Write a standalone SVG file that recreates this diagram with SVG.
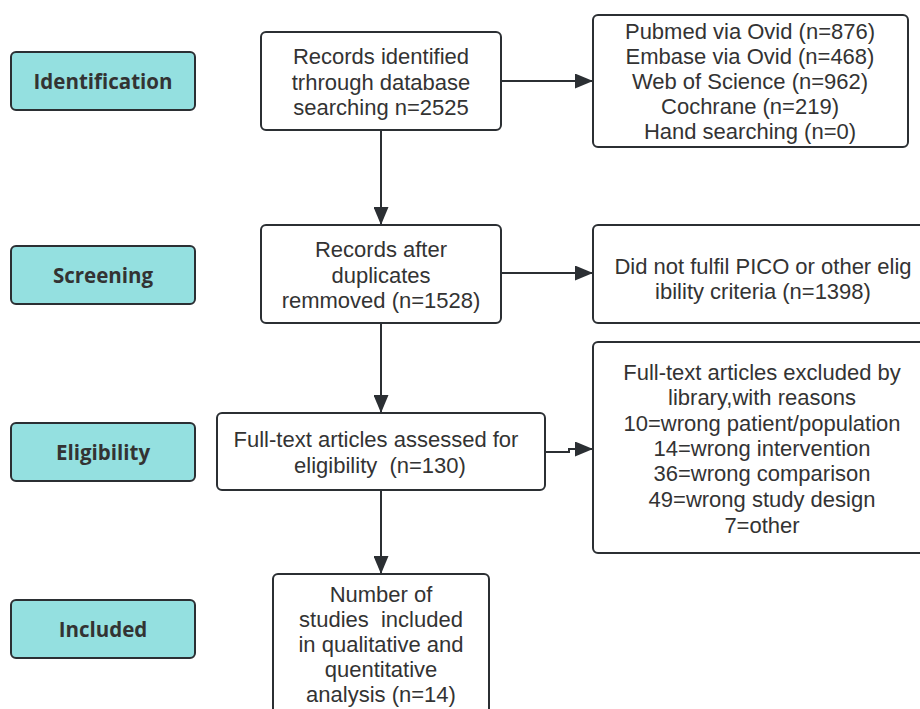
<svg xmlns="http://www.w3.org/2000/svg" width="920" height="709" viewBox="0 0 920 709">
<defs>
<style>
.lbl rect{fill:#94e0e0;stroke:#2b2f33;stroke-width:2}
.lbl text{font-family:"Open Sans","Noto Sans",sans-serif;font-weight:bold;font-size:20.5px;fill:#333;text-anchor:middle}
.box rect{fill:#fff;stroke:#2b2f33;stroke-width:2}
.box text{font-family:"Liberation Sans",Arial,sans-serif;font-size:22px;fill:#333;text-anchor:middle;white-space:pre}
.conn path{fill:none;stroke:#2b2f33;stroke-width:2}
</style>
<marker id="ah" markerWidth="18" markerHeight="15" viewBox="0 0 18 15" refX="18" refY="7.5" orient="auto" markerUnits="userSpaceOnUse">
<path d="M0,0 L18,7.5 L0,15 Z" fill="#2b2f33"/>
</marker>
</defs>
<rect width="920" height="709" fill="#fff"/>
<g id="lbl-identification" class="lbl"><rect x="11" y="52" width="184" height="58" rx="5"/><text x="103" y="89">Identification</text></g>
<g id="lbl-screening" class="lbl"><rect x="11" y="246" width="184" height="58" rx="5"/><text x="103" y="283">Screening</text></g>
<g id="lbl-eligibility" class="lbl"><rect x="11" y="423" width="184" height="58" rx="5"/><text x="103" y="460">Eligibility</text></g>
<g id="lbl-included" class="lbl"><rect x="11" y="600" width="184" height="58" rx="5"/><text x="103" y="637">Included</text></g>
<g class="conn">
<path d="M501,81 L593,81" marker-end="url(#ah)"/>
<path d="M381,130 L381,225" marker-end="url(#ah)"/>
<path d="M501,273 L593,273" marker-end="url(#ah)"/>
<path d="M381,323 L381,413" marker-end="url(#ah)"/>
<path d="M545,452 L569,452 L569,449 L593,449" marker-end="url(#ah)"/>
<path d="M381,490 L381,574" marker-end="url(#ah)"/>
</g>
<g id="n-records" class="box"><rect x="261" y="32" width="240" height="98" rx="5"/>
<text x="381" y="64">Records identified</text><text x="381" y="90">trhrough database</text><text x="381" y="115">searching n=2525</text></g>
<g id="n-sources" class="box"><rect x="593" y="15" width="315" height="132" rx="5"/>
<text x="750" y="39">Pubmed via Ovid (n=876)</text><text x="750" y="64">Embase via Ovid (n=468)</text><text x="750" y="89">Web of Science (n=962)</text><text x="750" y="114">Cochrane (n=219)</text><text x="750" y="139">Hand searching (n=0)</text></g>
<g id="n-dedup" class="box"><rect x="261" y="225" width="240" height="98" rx="5"/>
<text x="381" y="257">Records after</text><text x="381" y="283">duplicates</text><text x="381" y="308">remmoved (n=1528)</text></g>
<g id="n-pico" class="box"><rect x="593" y="225" width="340" height="98" rx="5"/>
<text x="763" y="274">Did not fulfil PICO or other elig</text><text x="763" y="299">ibility criteria (n=1398)</text></g>
<g id="n-fulltext" class="box"><rect x="217" y="413" width="328" height="77" rx="5"/>
<text x="376" y="447">Full-text articles assessed for</text><text x="380" y="473">eligibility  (n=130)</text></g>
<g id="n-excluded" class="box"><rect x="593" y="342" width="340" height="211" rx="5"/>
<text x="762" y="380">Full-text articles excluded by</text><text x="762" y="405">library,with reasons</text><text x="762" y="431">10=wrong patient/population</text><text x="762" y="456">14=wrong intervention</text><text x="762" y="481">36=wrong comparison</text><text x="762" y="507">49=wrong study design</text><text x="762" y="533">7=other</text></g>
<g id="n-included" class="box"><rect x="273" y="574" width="216" height="150" rx="5"/>
<text x="381" y="602">Number of</text><text x="381" y="627">studies  included</text><text x="381" y="652">in qualitative and</text><text x="381" y="677">quentitative</text><text x="381" y="702">analysis (n=14)</text></g>
</svg>
